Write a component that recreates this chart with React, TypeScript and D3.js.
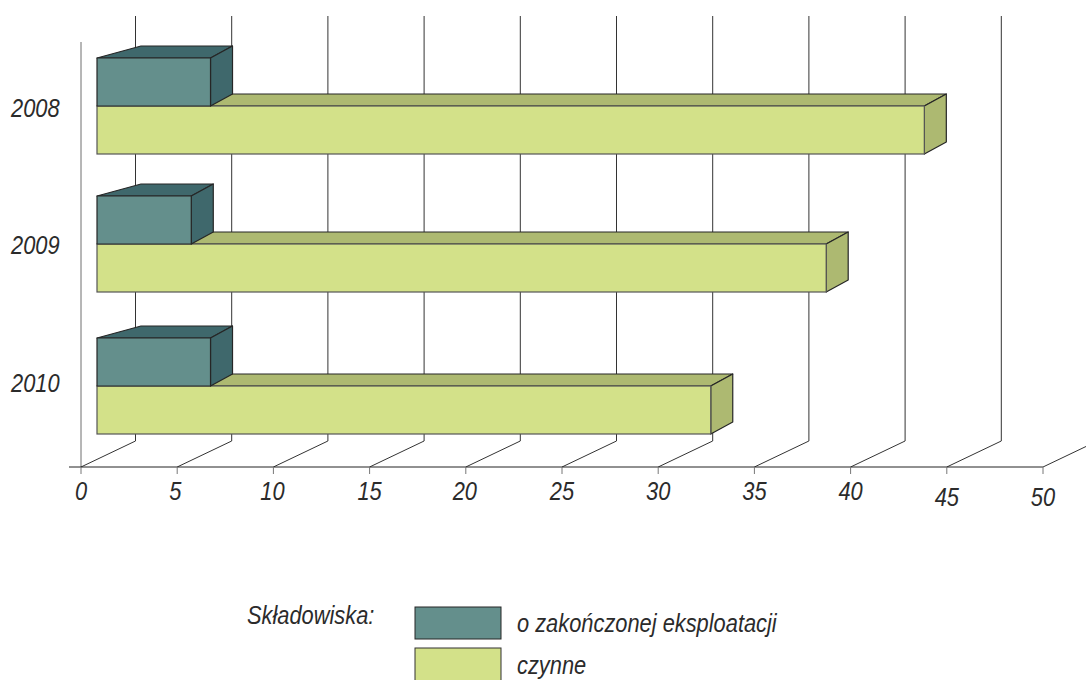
import React from "react";
import * as d3 from "d3";

const years = ["2008", "2009", "2010"];
const closedSites = [5.9, 4.9, 5.9];
const activeSites = [43, 37.9, 31.9];
const xTicks = [0, 5, 10, 15, 20, 25, 30, 35, 40, 45, 50];
const legendTitle = "Składowiska:";
const legendClosed = "o zakończonej eksploatacji";
const legendActive = "czynne";

const W = 1086;
const H = 680;
const FONT = "'Liberation Sans', Arial, sans-serif";
const INK = "#2b2b2b";

const C_CLOSED = { front: "#648f8c", dark: "#3f686c" };
const C_ACTIVE = { front: "#d3e189", dark: "#adb971" };

// Axis floor and the back wall are offset from each other to fake depth.
const x = d3.scaleLinear().domain([0, 50]).range([81, 1043]);
const AXIS_Y = 467;
const WALL_DX = 54.5;
const WALL_DY = 26;
const WALL_TOP = 16;

// Bars stand between floor and wall, with their own small extrusion.
const BAR_DX = 16;
const BAR_H = 48;
const EX = 22;
const EY = 12;
const rowY = d3.scaleOrdinal<string, number>().domain(years).range([106, 244, 386]);
const rowLabelY = d3.scaleOrdinal<string, number>().domain(years).range([117, 254, 392]);

// Condensed look of the italic face
const SX = 0.84;
const labelDrop = (v: number) => (v >= 45 ? 6 : 0);
const labelNudge = (v: number) => (v === 5 ? -2 : v === 10 || v === 20 ? -1 : 0);

const pts = (p: [number, number][]) => p.map((q) => q.join(",")).join(" ");

function Label({ px, py, size = 26, anchor = "start", children }: any) {
  return (
    <text
      transform={`translate(${px},${py}) scale(${SX},1)`}
      fontFamily={FONT}
      fontStyle="italic"
      fontSize={size}
      fill={INK}
      textAnchor={anchor}
    >
      {children}
    </text>
  );
}

const EDGE = { stroke: "#262626", strokeWidth: 1.2, strokeLinejoin: "round" as const };

// Top and end faces of an extruded bar; the front face is drawn separately.
function Extrusion({ x0, x1, top, colors, skewTop }: any) {
  const b = top + BAR_H;
  return (
    <g>
      <polygon
        points={pts([
          [x0, top],
          [x0 + (skewTop ? EX * 2 : 0), top - EY],
          [x1 + EX, top - EY],
          [x1, top],
        ])}
        fill={colors.dark}
        {...EDGE}
      />
      <polygon
        points={pts([
          [x1, top],
          [x1 + EX, top - EY],
          [x1 + EX, b - EY],
          [x1, b],
        ])}
        fill={colors.dark}
        {...EDGE}
      />
    </g>
  );
}

export default function App() {
  return (
    <svg width={W} height={H} style={{ position: "absolute", left: 0, top: 0, background: "#fff" }}>
      {/* left wall edge */}
      <line x1={x(0)} x2={x(0)} y1={42} y2={AXIS_Y} stroke="#6e6e6e" />

      {/* gridlines: floor diagonal plus wall vertical */}
      {xTicks.map((t) => (
        <polyline
          key={t}
          points={pts(
            t === 50
              ? [
                  [x(t), AXIS_Y],
                  [x(t) + WALL_DX, AXIS_Y - WALL_DY],
                ]
              : [
                  [x(t), AXIS_Y],
                  [x(t) + WALL_DX, AXIS_Y - WALL_DY],
                  [x(t) + WALL_DX, WALL_TOP],
                ]
          )}
          fill="none"
          stroke="#333"
          strokeWidth={1}
        />
      ))}

      {/* value axis */}
      <line x1={69} x2={x(50)} y1={AXIS_Y} y2={AXIS_Y} stroke="#222" />
      {xTicks.map((t) => (
        <line key={t} x1={x(t)} x2={x(t)} y1={AXIS_Y} y2={AXIS_Y + 7} stroke="#777" />
      ))}
      {xTicks.map((t) => (
        <Label key={t} px={x(t) + labelNudge(t)} py={500 + labelDrop(t)} anchor="middle">
          {t}
        </Label>
      ))}

      {/* bars, active first so the closed-site block overlaps its top */}
      {years.map((year, i) => {
        const base = x(0) + BAR_DX;
        const scaleLen = (v: number) => base + x(v) - x(0);
        const y0 = rowY(year);
        const activeEnd = scaleLen(activeSites[i]);
        const closedEnd = scaleLen(closedSites[i]);
        return (
          <g key={year}>
            <Extrusion x0={closedEnd} x1={activeEnd} top={y0} colors={C_ACTIVE} />
            <rect x={base} y={y0} width={activeEnd - base} height={BAR_H} fill={C_ACTIVE.front} stroke="#555" strokeWidth={1.2} />
            <Extrusion x0={base} x1={closedEnd} top={y0 - BAR_H} colors={C_CLOSED} skewTop />
            <rect x={base} y={y0 - BAR_H} width={closedEnd - base} height={BAR_H} fill={C_CLOSED.front} {...EDGE} />
            <Label px={11} py={rowLabelY(year)}>
              {year}
            </Label>
          </g>
        );
      })}

      {/* legend */}
      <Label px={247} py={624}>{legendTitle}</Label>
      <rect x={415} y={607} width={86} height={32} fill={C_CLOSED.front} stroke="#262626" />
      <Label px={517} py={632}>{legendClosed}</Label>
      <rect x={415} y={648} width={86} height={40} fill={C_ACTIVE.front} stroke="#333" />
      <Label px={517} py={674}>{legendActive}</Label>
    </svg>
  );
}
